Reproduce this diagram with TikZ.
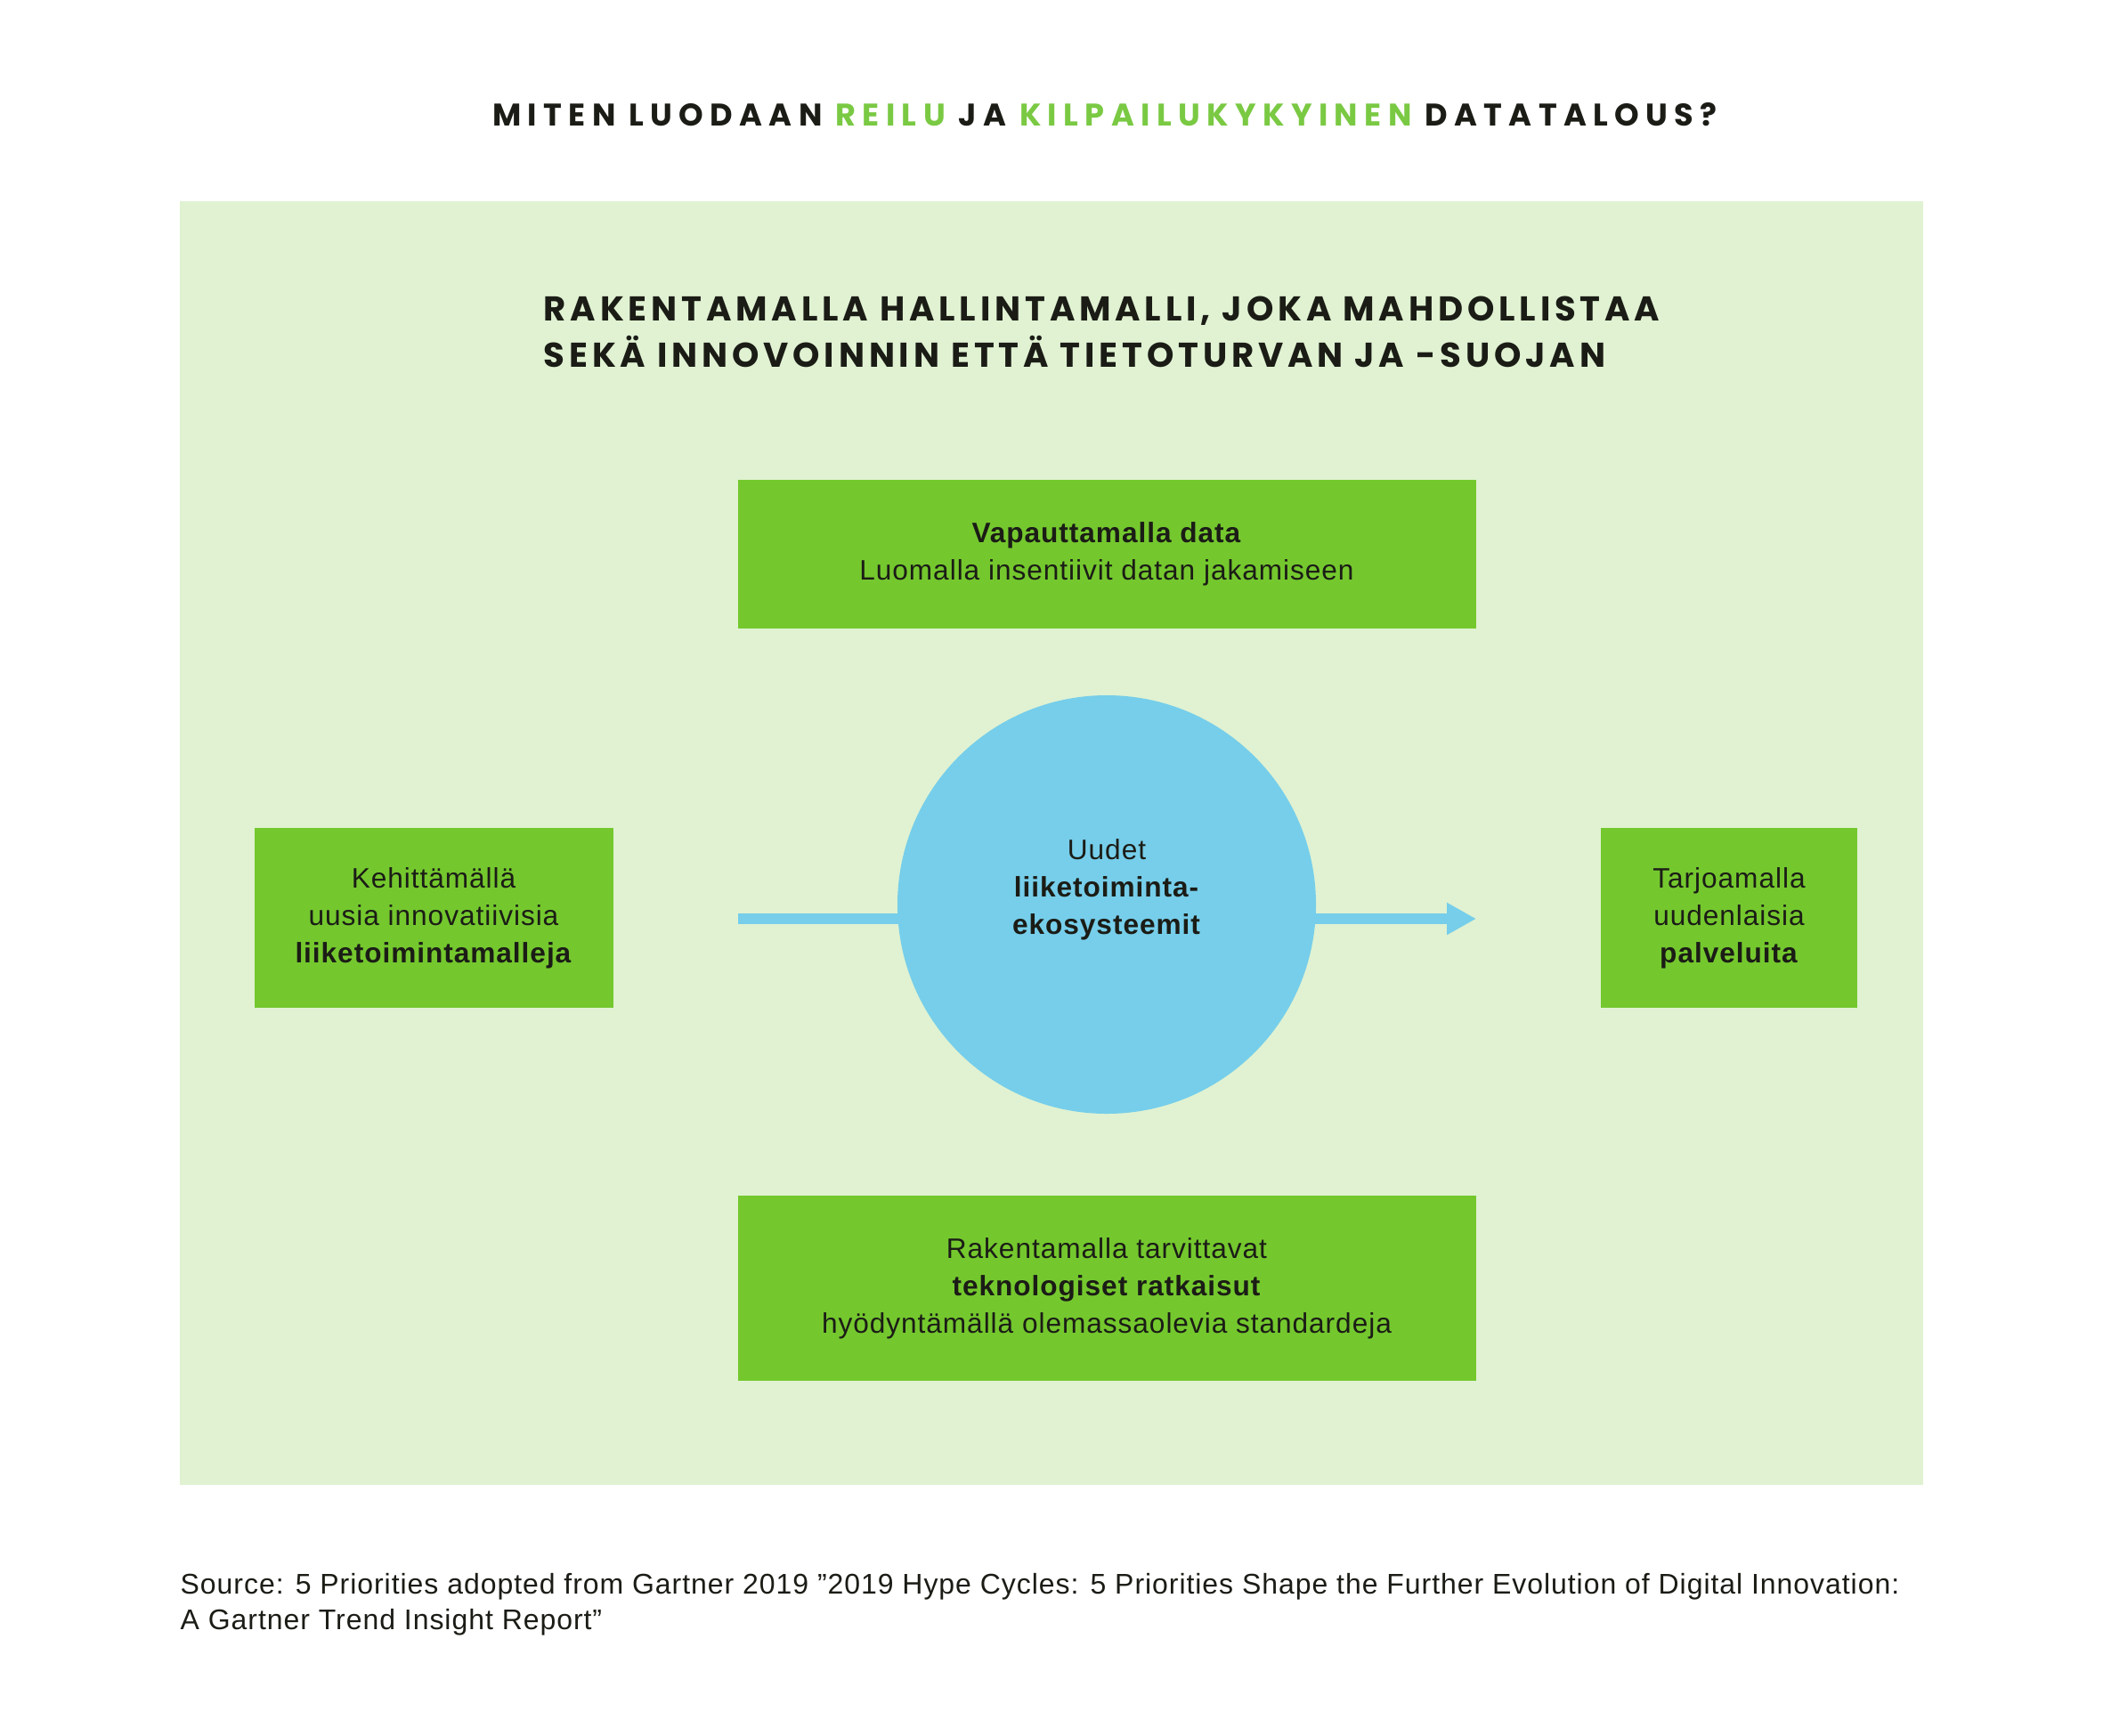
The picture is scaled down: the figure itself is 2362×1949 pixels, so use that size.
\documentclass[tikz,border=0pt]{standalone}
\usepackage{fontspec}
\setmainfont{Liberation Sans}[LetterSpace=3]
\newfontfamily\headfont{Poppins}[LetterSpace=21]
\newfontfamily\leadfont{Poppins}[LetterSpace=12.5]
\usetikzlibrary{arrows.meta,positioning}

\definecolor{bgGreen}{HTML}{E0F2D2}
\definecolor{boxGreen}{HTML}{74C82E}
\definecolor{hiGreen}{HTML}{7AC943}
\definecolor{ecoBlue}{HTML}{76CEEA}
\definecolor{inkDark}{HTML}{1B1C16}

\tikzset{
    theme/.style = {fill=boxGreen, inner sep=0pt, align=center, text=inkDark,
                    font=\fontsize{9}{12}\selectfont},
    hub/.style = {circle, fill=ecoBlue, minimum size=47mm, inner sep=0pt},
    hubtext/.style = {align=center, text=inkDark, yshift=1.7mm,
                      font=\fontsize{9}{12}\selectfont},
    flow/.style = {draw=ecoBlue, line width=1.2mm,
                   -{Triangle[length=3.3mm,width=3.4mm]}}
}

\begin{document}
\begin{tikzpicture}[x=0.1mm, y=-0.1mm]
    \useasboundingbox[fill=white] (0,0) rectangle (2362,1949);
    \fill[bgGreen] (202,226) rectangle (2160,1668);

    % headings
    \node[text=inkDark, font=\headfont\bfseries\fontsize{10}{12}\selectfont] (title) at (1241,129)
        {MITEN LUODAAN \textcolor{hiGreen}{REILU} JA \textcolor{hiGreen}{KILPAILUKYKYINEN} DATATALOUS?};
    \node[anchor=west, align=left, inner sep=0pt, text=inkDark, font=\leadfont\bfseries\fontsize{11}{14.8}\selectfont] (lead) at (610,373)
        {RAKENTAMALLA HALLINTAMALLI, JOKA MAHDOLLISTAA\\SEKÄ INNOVOINNIN ETTÄ TIETOTURVAN JA -SUOJAN};

    % flow behind the hub
    \coordinate (flowIn) at (829,1032);
    \coordinate (flowOut) at (1658,1032);
    \draw[flow] (flowIn) -- (flowOut);

    \node[hub, label={[hubtext]center:Uudet\\\textbf{liiketoiminta-}\\\textbf{ekosysteemit}}] (eco) at (1243,1016) {};

    % themes round the hub
    \node[theme, minimum width=82.9mm, minimum height=16.7mm] (data) at (1243,622)
        {\textbf{Vapauttamalla data}\\Luomalla insentiivit datan jakamiseen};
    \node[theme, minimum width=40.3mm, minimum height=20.2mm] (models) at (487,1031)
        {Kehittämällä\\uusia innovatiivisia\\\textbf{liiketoimintamalleja}};
    \node[theme, minimum width=28.8mm, minimum height=20.2mm] (services) at (1942,1031)
        {Tarjoamalla\\uudenlaisia\\\textbf{palveluita}};
    \node[theme, minimum width=82.9mm, minimum height=20.8mm] (tech) at (1243,1447)
        {Rakentamalla tarvittavat\\\textbf{teknologiset ratkaisut}\\hyödyntämällä olemassaolevia standardeja};

    % source
    \node[anchor=north west, align=left, inner sep=0pt, text=inkDark, font=\fontsize{9.1}{11.4}\selectfont] (source) at (202,1767)
        {Source: 5 Priorities adopted from Gartner 2019 ”2019 Hype Cycles: 5 Priorities Shape the Further Evolution of Digital Innovation:\\A Gartner Trend Insight Report”};
\end{tikzpicture}
\end{document}
